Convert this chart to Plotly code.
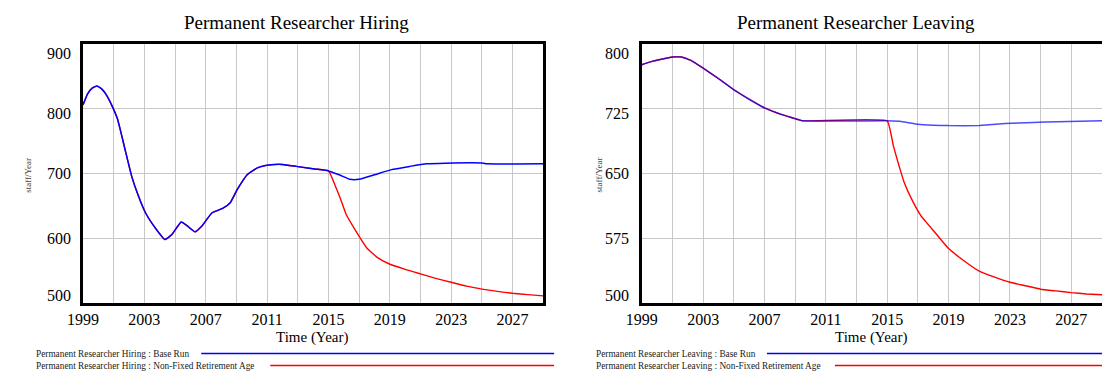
import plotly.graph_objects as go

W, H = 1102, 371
SERIF = "Liberation Serif"

# ---- Permanent Researcher Hiring (staff/Year) ----
hiring_years = [1999.0, 1999.3, 1999.6, 1999.9, 2000.2, 2000.56, 2000.9, 2001.25,
                2001.7, 2002.17, 2002.6, 2003.08, 2003.77,
                2004.34, 2004.8, 2005.4, 2005.8, 2006.3, 2006.75, 2007.4, 2008.1,
                2008.6, 2009.05, 2009.7, 2010.4, 2011.1, 2012.0, 2012.9, 2014.1,
                2015.0, 2015.7, 2016.4, 2017.0, 2018.0, 2019.1, 2020.3, 2021.4,
                2022.6, 2025.1, 2025.3, 2029.0]
hiring_base = [806, 823, 832, 835, 831, 820, 804, 784,
               741, 696, 666, 639, 614,
               598, 606, 625, 619, 610, 619, 639, 646,
               655, 675, 698, 709, 713, 714, 711, 707,
               704, 698, 691, 691, 698, 706, 711, 715,
               716, 716, 715, 715]
hiring_alt_tail_years = [2015.46, 2015.8, 2016.15, 2016.84, 2017.5, 2018.2, 2018.9,
                         2020.0, 2021.0, 2022.0, 2023.0, 2024.0, 2025.1, 2026.0,
                         2027.0, 2028.0, 2029.0]
hiring_alt_tail = [680, 660, 637, 609, 585, 570, 561,
                   552, 545, 538, 532, 526, 521, 518,
                   515, 513, 511]

# ---- Permanent Researcher Leaving (staff/Year) ----
leaving_years = [1999.0, 1999.5, 2000.2, 2001.0, 2001.6, 2002.2, 2003.0, 2004.0,
                 2005.0, 2006.0, 2007.0, 2008.0, 2008.8, 2009.5, 2015.0, 2016.0,
                 2017.0, 2018.0, 2019.0, 2021.0, 2022.7, 2024.5, 2026.1, 2029.0]
leaving_base = [776, 779, 782, 785, 785, 781, 772, 760,
                747, 736, 726, 719, 714.6, 711, 711, 710,
                707, 706, 705.5, 705.5, 708, 709, 710, 711]
leaving_alt_tail_years = [2015.4, 2015.75, 2016.1, 2016.6, 2017.2, 2018.1, 2019.0,
                          2020.0, 2021.0, 2022.0, 2023.0, 2024.0, 2025.0, 2026.0,
                          2027.0, 2028.0, 2029.0]
leaving_alt_tail = [682, 660, 640, 620, 601, 582, 563,
                    549, 537, 530, 524, 520, 516, 514,
                    512, 510.5, 509.5]

# Policy switch year: both runs share history up to here
SPLIT = 2015.0

def with_tail(years, values, tail_years, tail_values):
    k = years.index(SPLIT) + 1
    return years[:k] + tail_years, values[:k] + tail_values

hiring_alt_years, hiring_alt = with_tail(hiring_years, hiring_base,
                                         hiring_alt_tail_years, hiring_alt_tail)
leaving_alt_years, leaving_alt = with_tail(leaving_years, leaving_base,
                                           leaving_alt_tail_years, leaving_alt_tail)

x_ticks = list(range(1999, 2028, 4))
hiring_ticks = [500, 600, 700, 800, 900]
leaving_ticks = [500, 575, 650, 725, 800]

titles = ["Permanent Researcher Hiring", "Permanent Researcher Leaving"]
run_names = ["Base Run", "Non-Fixed Retirement Age"]

BLUE = "#0000ff"
RED = "#ff0000"

fig = go.Figure()

# left panel
fig.add_trace(go.Scatter(x=hiring_alt_years, y=hiring_alt, mode="lines",
                         line=dict(color=RED, width=1.4, shape="spline", smoothing=0.4),
                         xaxis="x", yaxis="y", showlegend=False))
fig.add_trace(go.Scatter(x=hiring_years, y=hiring_base, mode="lines",
                         line=dict(color=BLUE, width=1.5, shape="spline", smoothing=0.4),
                         xaxis="x", yaxis="y", showlegend=False))
# right panel
fig.add_trace(go.Scatter(x=leaving_alt_years, y=leaving_alt, mode="lines",
                         line=dict(color=RED, width=1.4, shape="spline", smoothing=0.3),
                         xaxis="x2", yaxis="y2", showlegend=False))
fig.add_trace(go.Scatter(x=leaving_years, y=leaving_base, mode="lines",
                         line=dict(color=BLUE, width=1.5, shape="spline", smoothing=0.2),
                         opacity=0.7, xaxis="x2", yaxis="y2", showlegend=False))

def px(x):
    return x / W

def py(y):
    return 1 - y / H

GRID = "#c8c8c8"
common_x = dict(range=[1999, 2029], tickmode="array", tickvals=x_ticks,
                ticktext=[str(v) for v in x_ticks], showgrid=True, gridcolor=GRID,
                gridwidth=1, minor=dict(dtick=2, tick0=1999, showgrid=True,
                                        gridcolor=GRID, gridwidth=1),
                showline=True, linecolor="black", linewidth=2.5, mirror=True,
                ticks="", tickfont=dict(family=SERIF, size=16, color="black"),
                zeroline=False, fixedrange=True)

y_dom = [py(303), py(44)]
fig.update_layout(
    width=W, height=H, margin=dict(l=0, r=0, t=0, b=0),
    paper_bgcolor="white", plot_bgcolor="white",
    xaxis=dict(domain=[px(68), px(535)], anchor="y", **common_x),
    yaxis=dict(domain=y_dom, anchor="x", range=[500, 900], tickvals=hiring_ticks,
               showticklabels=False, showgrid=True, gridcolor=GRID, gridwidth=1,
               showline=True, linecolor="black", linewidth=2.5, mirror=True,
               zeroline=False, fixedrange=True),
    xaxis2=dict(domain=[px(635), 1.0], anchor="y2", **common_x),
    yaxis2=dict(domain=y_dom, anchor="x2", range=[500, 800], tickvals=leaving_ticks,
                showticklabels=False, showgrid=True, gridcolor=GRID, gridwidth=1,
                showline=True, linecolor="black", linewidth=2.5, mirror=False,
                zeroline=False, fixedrange=True),
)

anns = []
# y tick labels: outer labels pulled inward, as the plotting tool draws them
def y_labels(ticks, yref, right_edge):
    shifts = [8, 0, 0, -5, -10]
    for v, s in zip(ticks, shifts):
        anns.append(dict(x=px(right_edge), y=v, xref="paper", yref=yref,
                         text=str(v), showarrow=False, xanchor="right",
                         yanchor="middle", yshift=s,
                         font=dict(family=SERIF, size=16, color="black")))

y_labels(hiring_ticks, "y", 58)
y_labels(leaving_ticks, "y2", 624)

for title, cx, xc, ylab_x in [(titles[0], 285, 301, 12), (titles[1], 852, 868, 592)]:
    anns.append(dict(x=px(cx), y=py(22), xref="paper", yref="paper", text=title,
                     showarrow=False, xanchor="center", yanchor="middle",
                     font=dict(family=SERIF, size=19, color="black")))
    anns.append(dict(x=px(xc), y=py(337), xref="paper", yref="paper",
                     text="Time (Year)", showarrow=False, xanchor="center",
                     yanchor="middle", font=dict(family=SERIF, size=15, color="black")))
    anns.append(dict(x=px(ylab_x), y=py(175), xref="paper", yref="paper",
                     text="staff/Year", textangle=-90, showarrow=False,
                     xanchor="center", yanchor="middle",
                     font=dict(family=SERIF, size=9, color="#444444")))

# run legends below each panel
shapes = []
legend_rows = [
    (18, titles[0], [(run_names[0], 188, 546, BLUE), (run_names[1], 258, 546, RED)]),
    (587, titles[1], [(run_names[0], 762, 1102, BLUE), (run_names[1], 831, 1102, RED)]),
]
for x0, title, rows in legend_rows:
    for (name, lx0, lx1, col), yy in zip(rows, [353.5, 365.5]):
        anns.append(dict(x=px(x0), y=py(yy), xref="paper", yref="paper",
                         text=f"{title} : {name}", showarrow=False,
                         xanchor="left", yanchor="middle",
                         font=dict(family=SERIF, size=9.3, color="#222222")))
        shapes.append(dict(type="line", xref="paper", yref="paper",
                           x0=px(lx0), x1=px(lx1), y0=py(yy), y1=py(yy),
                           line=dict(color=col, width=1.3)))

fig.update_layout(annotations=anns, shapes=shapes)

fig.write_html("out.html")
